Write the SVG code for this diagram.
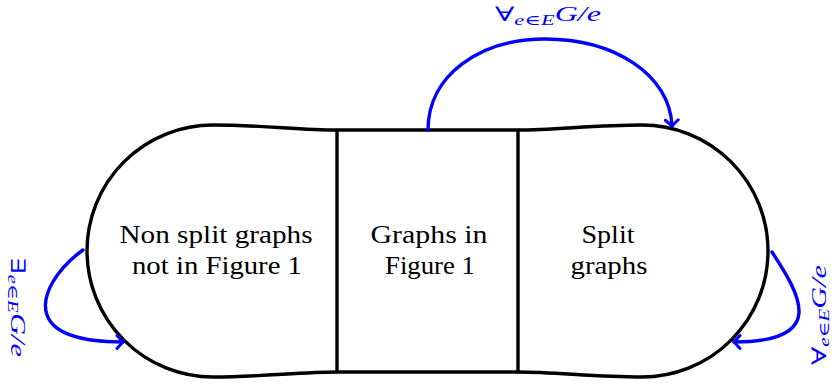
<svg xmlns="http://www.w3.org/2000/svg" width="837" height="386" viewBox="0 0 837 386">
  <defs>
    <style>
      .shape { fill: none; stroke: #000; stroke-width: 3.4; stroke-linejoin: round; }
      .body { font-family: "Liberation Serif", "DejaVu Serif", serif; font-size: 25px; fill: #000; text-anchor: middle; }
      .conn { fill: none; stroke: #0000ff; stroke-width: 3.4; stroke-linecap: round; }
      .math { font-family: "Liberation Serif", "DejaVu Serif", serif; font-size: 20px; fill: #0000ff; }
      .sub { font-size: 14px; }
      .it { font-style: italic; }
    </style>
    <marker id="arrow" viewBox="-8 -8 12 16" markerWidth="12" markerHeight="16" refX="0" refY="0" orient="auto" markerUnits="userSpaceOnUse">
      <path d="M -6,-6.5 Q -1.5,-1.5 0,0 Q -1.5,1.5 -6,6.5" fill="none" stroke="#0000ff" stroke-width="3" stroke-linecap="round"/>
    </marker>
  </defs>
  <rect x="0" y="0" width="837" height="386" fill="#fff"/>

  <g id="node-nonsplit">
    <path class="shape" d="M337,130 C300,130 260,125 213,125 A126,126 0 0 0 213,377 C260,377 300,372 337,372"/>
    <text class="body" x="216" y="243" textLength="193" lengthAdjust="spacingAndGlyphs">Non split graphs</text>
    <text class="body" x="217" y="274" textLength="170" lengthAdjust="spacingAndGlyphs">not in Figure 1</text>
  </g>

  <g id="node-figure1">
    <rect class="shape" x="337" y="130" width="181" height="242"/>
    <text class="body" x="429" y="243" textLength="117" lengthAdjust="spacingAndGlyphs">Graphs in</text>
    <text class="body" x="430" y="274" textLength="90" lengthAdjust="spacingAndGlyphs">Figure 1</text>
  </g>

  <g id="node-split">
    <path class="shape" d="M518,130 C555,130 595,125 642,125 A126,126 0 0 1 642,377 C595,377 555,372 518,372"/>
    <text class="body" x="608" y="243" textLength="53" lengthAdjust="spacingAndGlyphs">Split</text>
    <text class="body" x="609" y="274" textLength="77" lengthAdjust="spacingAndGlyphs">graphs</text>
  </g>

  <g id="connectors">
    <path class="conn" marker-end="url(#arrow)" d="M428,130 C428,75 480,39 545,39 C615,39 670,75 672,126"/>
    <path class="conn" marker-end="url(#arrow)" d="M83,250 C58,268 40,295 47,315 C55,338 95,342 123,342"/>
    <path class="conn" marker-end="url(#arrow)" d="M772,252 C785,272 800,295 799,313 C797,338 760,342 734,342"/>
    <text class="math" x="495" y="21" textLength="106" lengthAdjust="spacingAndGlyphs">∀<tspan class="sub" dy="4"><tspan class="it">e</tspan>∈<tspan class="it">E</tspan></tspan><tspan class="it" dy="-4">G/e</tspan></text>
    <text class="math" transform="translate(11,258) rotate(90)" textLength="99" lengthAdjust="spacingAndGlyphs">∃<tspan class="sub" dy="3"><tspan class="it">e</tspan>∈<tspan class="it">E</tspan></tspan><tspan class="it" dy="-3">G/e</tspan></text>
    <text class="math" transform="translate(826,365) rotate(-90)" textLength="100" lengthAdjust="spacingAndGlyphs">∀<tspan class="sub" dy="3"><tspan class="it">e</tspan>∈<tspan class="it">E</tspan></tspan><tspan class="it" dy="-3">G/e</tspan></text>
  </g>
</svg>
